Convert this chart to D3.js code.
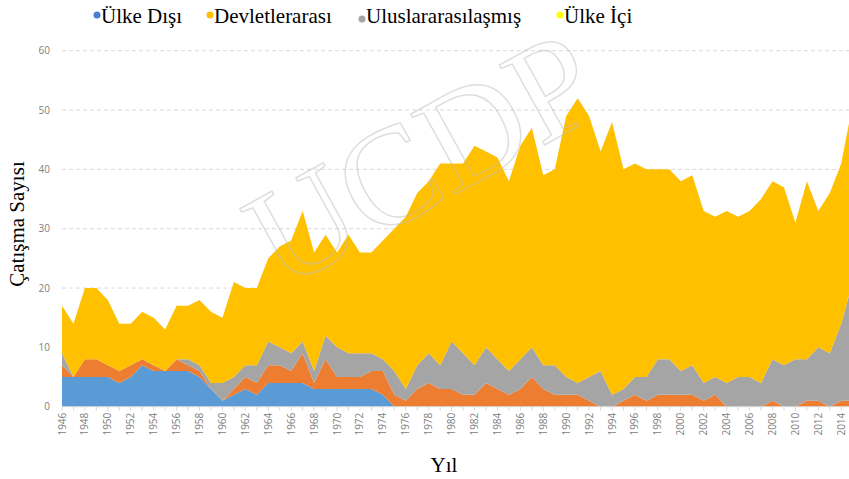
<!DOCTYPE html>
<html>
<head>
<meta charset="utf-8">
<script src="https://cdn.jsdelivr.net/npm/d3@7/dist/d3.min.js"></script>
<style>
    html, body { margin: 0; padding: 0; background: #fff; }
    svg { display: block; }
</style>
</head>
<body>
<svg id="chart" width="849" height="479"></svg>
<script>
// == Daten ==
// Years shown on the x axis (one point per year)
const YEARS = d3.range(1946, 2016);

// Conflicts per year, by type
const EXTRASYSTEMIC = [
    5, 5, 5, 5, 5, 4, 5, 7, 6, 6, 6, 6, 5, 3, 1, 2, 3, 2, 4, 4,
    4, 4, 3, 3, 3, 3, 3, 3, 2, 0, 0, 0, 0, 0, 0, 0, 0, 0, 0, 0,
    0, 0, 0, 0, 0, 0, 0, 0, 0, 0, 0, 0, 0, 0, 0, 0, 0, 0, 0, 0,
    0, 0, 0, 0, 0, 0, 0, 0, 0, 0
];
const INTERSTATE = [
    2, 0, 3, 3, 2, 2, 2, 1, 1, 0, 2, 1, 1, 0, 0, 1, 2, 2, 3, 3,
    2, 5, 1, 5, 2, 2, 2, 3, 4, 2, 1, 3, 4, 3, 3, 2, 2, 4, 3, 2,
    3, 5, 3, 2, 2, 2, 1, 0, 0, 1, 2, 1, 2, 2, 2, 2, 1, 2, 0, 0,
    0, 0, 1, 0, 0, 1, 1, 0, 1, 1
];
const INTERNATIONALIZED = [
    2, 0, 0, 0, 0, 0, 0, 0, 0, 0, 0, 1, 1, 1, 3, 2, 2, 3, 4, 3,
    3, 2, 2, 4, 5, 4, 4, 3, 2, 4, 2, 4, 5, 4, 8, 7, 5, 6, 5, 4,
    5, 5, 4, 5, 3, 2, 4, 6, 2, 2, 3, 4, 6, 6, 4, 5, 3, 3, 4, 5,
    5, 4, 7, 7, 8, 7, 9, 9, 13, 20
];
const INTRASTATE = [
    8, 9, 12, 12, 11, 8, 7, 8, 8, 7, 9, 9, 11, 12, 11, 16, 13, 13, 14, 17,
    19, 22, 20, 17, 16, 20, 17, 17, 20, 24, 29, 29, 29, 34, 30, 32, 37, 33, 34, 32,
    36, 37, 32, 33, 44, 48, 44, 37, 46, 37, 36, 35, 32, 32, 32, 32, 29, 27, 29, 27,
    28, 31, 30, 30, 23, 30, 23, 27, 27, 30
];

// Series keys (stack order bottom -> top), legend texts
const SERIES_KEYS = ['extrasystemic', 'interstate', 'internationalized', 'intrastate'];
const SERIES_COLORS = ['#5B9BD5', '#ED7D31', '#A5A5A5', '#FFC000'];
const LEGEND_LABELS = ['Ülke Dışı', 'Devletlerarası', 'Uluslararasılaşmış', 'Ülke İçi'];
const LEGEND_COLORS = ['#4A7FD0', '#FFC000', '#A5A5A5', '#FFFF00'];
const Y_TICKS = [0, 10, 20, 30, 40, 50, 60];

// == Layout ==
const W = 849, H = 479;
const svg = d3.select('#chart');

const rows = YEARS.map((year, i) => ({
    year: year,
    extrasystemic: EXTRASYSTEMIC[i],
    interstate: INTERSTATE[i],
    internationalized: INTERNATIONALIZED[i],
    intrastate: INTRASTATE[i]
}));

const x = d3.scaleLinear().domain([1946, 2015]).range([62, 852.7]);
const y = d3.scaleLinear().domain([0, 60]).range([406.7, 50.7]);

// Gridlines (dashed)
svg.append('g')
    .selectAll('line')
    .data(Y_TICKS.filter(d => d > 0))
    .enter()
    .append('line')
    .attr('x1', x(1946))
    .attr('x2', W)
    .attr('y1', d => y(d))
    .attr('y2', d => y(d))
    .attr('stroke', '#d9d9d9')
    .attr('stroke-width', 1)
    .attr('stroke-dasharray', '4,3');

// Y axis labels
svg.append('g')
    .selectAll('text')
    .data(Y_TICKS)
    .enter()
    .append('text')
    .attr('x', 50)
    .attr('y', d => y(d))
    .attr('dy', '0.35em')
    .attr('text-anchor', 'end')
    .attr('font-family', '"Open Sans", "Liberation Sans", sans-serif')
    .attr('font-size', 10)
    .attr('fill', '#808080')
    .text(d => d);

// Stacked areas
const stack = d3.stack().keys(SERIES_KEYS);
const layers = stack(rows);
const area = d3.area()
    .x(d => x(d.data.year))
    .y0(d => y(d[0]))
    .y1(d => y(d[1]));

svg.append('g')
    .selectAll('path')
    .data(layers)
    .enter()
    .append('path')
    .attr('fill', (d, i) => SERIES_COLORS[i])
    .attr('d', area);

// X axis: baseline, ticks for every year, labels every second year
const xAxis = svg.append('g');
xAxis.append('line')
    .attr('x1', x(1946))
    .attr('x2', W)
    .attr('y1', y(0))
    .attr('y2', y(0))
    .attr('stroke', '#d9d9d9');
xAxis.selectAll('line.tick')
    .data(YEARS)
    .enter()
    .append('line')
    .attr('class', 'tick')
    .attr('x1', d => x(d))
    .attr('x2', d => x(d))
    .attr('y1', y(0))
    .attr('y2', y(0) + 4)
    .attr('stroke', '#d9d9d9');
xAxis.selectAll('text')
    .data(YEARS.filter(d => d % 2 === 0))
    .enter()
    .append('text')
    .attr('transform', d => `translate(${x(d)},${y(0) + 6}) rotate(-90)`)
    .attr('dy', '0.35em')
    .attr('text-anchor', 'end')
    .attr('font-family', '"Open Sans", "Liberation Sans", sans-serif')
    .attr('font-size', 10)
    .attr('fill', '#808080')
    .text(d => d);

// Watermark
svg.append('text')
    .attr('transform', 'translate(445,200) rotate(-29)')
    .attr('text-anchor', 'middle')
    .attr('font-family', '"Liberation Serif", serif')
    .attr('font-size', 140)
    .attr('fill', 'none')
    .attr('stroke', 'rgba(190,190,190,0.5)')
    .attr('stroke-width', 1.5)
    .text('UCDP');

// Axis titles
svg.append('text')
    .attr('transform', 'translate(24,224) rotate(-90)')
    .attr('text-anchor', 'middle')
    .attr('font-family', '"Liberation Serif", serif')
    .attr('font-size', 21)
    .attr('fill', '#000')
    .text('Çatışma Sayısı');
svg.append('text')
    .attr('x', 444)
    .attr('y', 472)
    .attr('text-anchor', 'middle')
    .attr('font-family', '"Liberation Serif", serif')
    .attr('font-size', 21)
    .attr('fill', '#000')
    .text('Yıl');

// Legend
const LEGEND_X = [97, 210, 362, 560];
const legend = svg.append('g')
    .selectAll('g')
    .data(LEGEND_LABELS)
    .enter()
    .append('g')
    .attr('transform', (d, i) => `translate(${LEGEND_X[i]},0)`);
legend.append('circle')
    .attr('cx', 0)
    .attr('cy', (d, i) => i === 2 ? 19 : 15)
    .attr('r', 3.5)
    .attr('fill', (d, i) => LEGEND_COLORS[i]);
legend.append('text')
    .attr('x', 4)
    .attr('y', 23)
    .attr('font-family', '"Liberation Serif", serif')
    .attr('font-size', 21)
    .attr('fill', '#000')
    .text(d => d);
</script>
</body>
</html>
